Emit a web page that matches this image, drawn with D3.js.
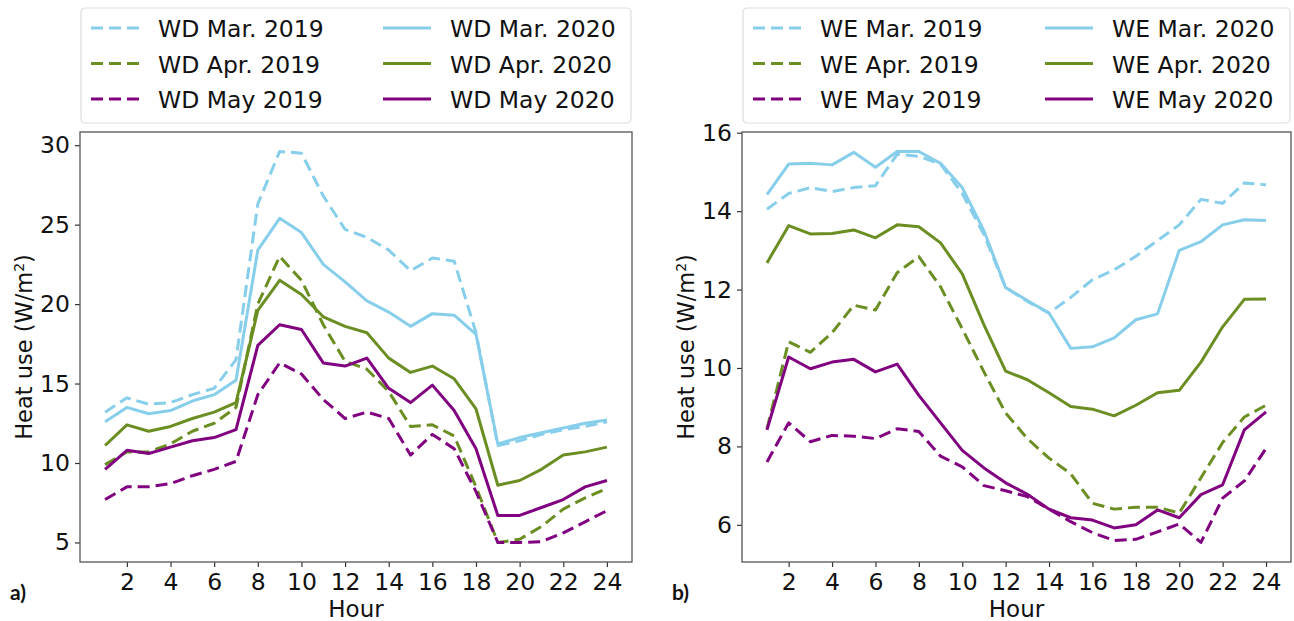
<!DOCTYPE html>
<html>
<head>
<meta charset="utf-8">
<script src="https://cdn.jsdelivr.net/npm/d3@7"></script>
<style>
  body { margin: 0; background: #fff; }
  svg { font-family: 'DejaVu Sans', sans-serif; }
</style>
</head>
<body>
<svg id="chart"></svg>
<script>
const width = 1294;
const height = 621;

const hours = [1, 2, 3, 4, 5, 6, 7, 8, 9, 10, 11, 12, 13, 14, 15, 16, 17, 18, 19, 20, 21, 22, 23, 24];
const xTicks = [2, 4, 6, 8, 10, 12, 14, 16, 18, 20, 22, 24];
const wdTicks = [5, 10, 15, 20, 25, 30];
const weTicks = [6, 8, 10, 12, 14, 16];

// weekday values (W/m2)
const wdMar2019 = [13.2, 14.1, 13.7, 13.8, 14.3, 14.7, 16.5, 26.3, 29.6, 29.5, 26.8, 24.7, 24.2, 23.4, 22.1, 22.9, 22.7, 18.2, 11.1, 11.4, 11.8, 12.1, 12.3, 12.6];
const wdMar2020 = [12.6, 13.5, 13.1, 13.3, 13.9, 14.3, 15.2, 23.4, 25.4, 24.5, 22.5, 21.4, 20.2, 19.5, 18.6, 19.4, 19.3, 18.1, 11.2, 11.6, 11.9, 12.2, 12.5, 12.7];
const wdApr2019 = [9.9, 10.7, 10.7, 11.2, 12.0, 12.5, 13.5, 20.0, 23.0, 21.5, 18.7, 16.4, 15.9, 14.5, 12.3, 12.4, 11.7, 8.5, 5.0, 5.2, 6.0, 7.1, 7.8, 8.4];
const wdApr2020 = [11.1, 12.4, 12.0, 12.3, 12.8, 13.2, 13.8, 19.6, 21.5, 20.6, 19.2, 18.6, 18.2, 16.6, 15.7, 16.1, 15.3, 13.4, 8.6, 8.9, 9.6, 10.5, 10.7, 11.0];
const wdMay2019 = [7.7, 8.5, 8.5, 8.7, 9.2, 9.6, 10.1, 14.3, 16.3, 15.6, 14.0, 12.8, 13.2, 12.8, 10.5, 11.8, 10.9, 8.2, 5.0, 5.0, 5.05, 5.6, 6.3, 7.0];
const wdMay2020 = [9.6, 10.8, 10.6, 11.0, 11.4, 11.6, 12.1, 17.4, 18.7, 18.4, 16.3, 16.1, 16.6, 14.7, 13.8, 14.9, 13.3, 10.9, 6.7, 6.7, 7.2, 7.7, 8.5, 8.9];

// weekend values (W/m2)
const weMar2019 = [14.05, 14.45, 14.6, 14.5, 14.6, 14.65, 15.45, 15.4, 15.2, 14.45, 13.4, 12.05, 11.7, 11.4, 11.8, 12.25, 12.5, 12.85, 13.25, 13.65, 14.3, 14.2, 14.72, 14.67];
const weMar2020 = [14.42, 15.2, 15.22, 15.18, 15.5, 15.12, 15.52, 15.52, 15.22, 14.6, 13.5, 12.05, 11.72, 11.4, 10.5, 10.54, 10.77, 11.23, 11.38, 13.0, 13.22, 13.65, 13.78, 13.76];
const weApr2019 = [8.45, 10.67, 10.4, 10.9, 11.6, 11.48, 12.43, 12.84, 12.07, 11.0, 9.9, 8.85, 8.2, 7.7, 7.3, 6.55, 6.4, 6.45, 6.45, 6.3, 7.2, 8.1, 8.75, 9.05];
const weApr2020 = [12.68, 13.63, 13.42, 13.43, 13.52, 13.32, 13.65, 13.6, 13.19, 12.4, 11.1, 9.92, 9.7, 9.37, 9.02, 8.95, 8.78, 9.05, 9.37, 9.43, 10.15, 11.05, 11.75, 11.76];
const weMay2019 = [7.6, 8.6, 8.12, 8.28, 8.26, 8.2, 8.45, 8.38, 7.75, 7.48, 7.0, 6.87, 6.72, 6.4, 6.08, 5.8, 5.6, 5.63, 5.82, 6.02, 5.55, 6.68, 7.12, 7.95];
const weMay2020 = [8.42, 10.28, 9.98, 10.15, 10.22, 9.9, 10.1, 9.3, 8.6, 7.9, 7.45, 7.07, 6.78, 6.4, 6.18, 6.12, 5.92, 6.0, 6.38, 6.18, 6.77, 7.02, 8.42, 8.88];

const colors = { mar: '#87ceeb', apr: '#6b8e23', may: '#800080' };

const panels = [
  {
    left: 80, right: 632, tag: 'a)', ticks: wdTicks,
    series: [
      { label: 'WD Mar. 2019', values: wdMar2019, color: colors.mar, dashed: true },
      { label: 'WD Apr. 2019', values: wdApr2019, color: colors.apr, dashed: true },
      { label: 'WD May 2019', values: wdMay2019, color: colors.may, dashed: true },
      { label: 'WD Mar. 2020', values: wdMar2020, color: colors.mar, dashed: false },
      { label: 'WD Apr. 2020', values: wdApr2020, color: colors.apr, dashed: false },
      { label: 'WD May 2020', values: wdMay2020, color: colors.may, dashed: false }
    ]
  },
  {
    left: 742, right: 1291, tag: 'b)', ticks: weTicks,
    series: [
      { label: 'WE Mar. 2019', values: weMar2019, color: colors.mar, dashed: true },
      { label: 'WE Apr. 2019', values: weApr2019, color: colors.apr, dashed: true },
      { label: 'WE May 2019', values: weMay2019, color: colors.may, dashed: true },
      { label: 'WE Mar. 2020', values: weMar2020, color: colors.mar, dashed: false },
      { label: 'WE Apr. 2020', values: weApr2020, color: colors.apr, dashed: false },
      { label: 'WE May 2020', values: weMay2020, color: colors.may, dashed: false }
    ]
  }
];

const plotTop = 132;
const plotBottom = 562;
const dash = '12,6';

const svg = d3.select('#chart')
  .attr('width', width)
  .attr('height', height);

panels.forEach((p) => {
  const all = p.series.flatMap((s) => s.values);
  const [lo, hi] = d3.extent(all);
  const pad = (hi - lo) * 0.05;

  const x = d3.scaleLinear()
    .domain([1 - 1.15, 24 + 1.15])
    .range([p.left, p.right]);

  const y = d3.scaleLinear()
    .domain([lo - pad, hi + pad])
    .range([plotBottom, plotTop]);

  const g = svg.append('g');

  // axes
  const xAxis = g.append('g')
    .attr('transform', `translate(0, ${plotBottom})`)
    .call(d3.axisBottom(x).tickValues(xTicks).tickSize(5).tickPadding(6).tickSizeOuter(0));

  const yAxis = g.append('g')
    .attr('transform', `translate(${p.left}, 0)`)
    .call(d3.axisLeft(y).tickValues(p.ticks).tickSize(5).tickPadding(5).tickSizeOuter(0));

  [xAxis, yAxis].forEach((a) => {
    a.select('.domain').remove();
    a.selectAll('.tick line').attr('stroke', '#333').attr('stroke-width', 1.2);
    a.selectAll('.tick text')
      .attr('fill', '#111')
      .style('font-size', '23.5px')
      .style('font-family', "'DejaVu Sans', sans-serif");
  });

  // lines
  const line = d3.line()
    .x((d, i) => x(hours[i]))
    .y((d) => y(d));

  p.series.forEach((s) => {
    g.append('path')
      .datum(s.values)
      .attr('fill', 'none')
      .attr('stroke', s.color)
      .attr('stroke-width', 3)
      .attr('stroke-linejoin', 'round')
      .attr('stroke-dasharray', s.dashed ? dash : null)
      .attr('d', line);
  });

  // frame
  g.append('rect')
    .attr('x', p.left)
    .attr('y', plotTop)
    .attr('width', p.right - p.left)
    .attr('height', plotBottom - plotTop)
    .attr('fill', 'none')
    .attr('stroke', '#555')
    .attr('stroke-width', 1.3);

  // axis titles
  g.append('text')
    .attr('x', (p.left + p.right) / 2)
    .attr('y', 617)
    .attr('text-anchor', 'middle')
    .style('font-size', '23px')
    .attr('fill', '#111')
    .text('Hour');

  const yl = g.append('text')
    .attr('transform', `translate(${p.left - 48}, ${(plotTop + plotBottom) / 2}) rotate(-90)`)
    .attr('text-anchor', 'middle')
    .style('font-size', '22.5px')
    .attr('fill', '#111');
  yl.append('tspan').text('Heat use (W/m');
  yl.append('tspan').attr('baseline-shift', 'super').style('font-size', '14px').text('2');
  yl.append('tspan').text(')');

  g.append('text')
    .attr('x', p.left - 70)
    .attr('y', 600)
    .style('font-family', 'Lato, sans-serif')
    .style('font-weight', 'bold')
    .style('font-size', '21px')
    .attr('fill', '#111')
    .text(p.tag);

  // legend
  const lg = g.append('g').attr('transform', `translate(${p.left + 1}, 8)`);
  lg.append('rect')
    .attr('width', p.right - p.left - 2)
    .attr('height', 115)
    .attr('rx', 4)
    .attr('fill', '#fff')
    .attr('stroke', '#ddd')
    .attr('stroke-width', 1.2);

  p.series.forEach((s, i) => {
    const col = Math.floor(i / 3);
    const row = i % 3;
    const ox = col === 0 ? 0 : 292;
    const cy = 20 + row * 35.5;
    lg.append('line')
      .attr('x1', ox + 10)
      .attr('x2', ox + 58)
      .attr('y1', cy)
      .attr('y2', cy)
      .attr('stroke', s.color)
      .attr('stroke-width', 3)
      .attr('stroke-dasharray', s.dashed ? dash : null);
    lg.append('text')
      .attr('x', ox + 77)
      .attr('y', cy + 9)
      .style('font-size', '23.5px')
      .attr('fill', '#111')
      .text(s.label);
  });
});
</script>
</body>
</html>
